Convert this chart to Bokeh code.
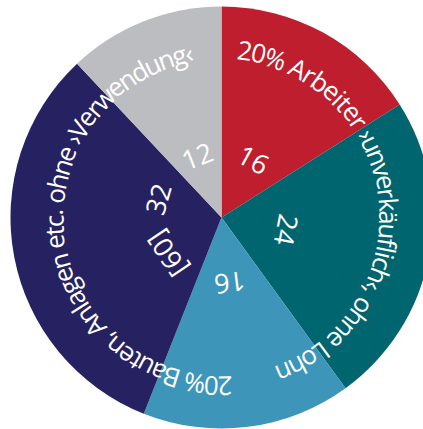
import math
from bokeh.plotting import figure
from bokeh.models import Range1d, ColumnDataSource
from bokeh.embed import file_html
from bokeh.resources import INLINE
from bokeh.core.properties import value

# ---- data ----
categories = ["Arbeiter", "unverkäuflich", "Bauten", "Anlagen", "Verwendung"]
values = [16, 24, 16, 32, 12]
value_labels = ["16", "24", "16", "32", "12"]
extra_label = "[60]"
colors = ["#BE1E2D", "#00656E", "#3D95B9", "#262262", "#BCBDC0"]
arc_texts = ["20% Arbeiter",
             "›unverkäuflich‹, ohne Lohn",
             "20% Bauten, Anlagen etc. ohne ›Verwendung‹"]
arc_start_deg = [84.5, 31.0, -86.5]
arc_end_deg = [33.0, -70.5, -260.0]

# ---- layout/style ----
R = 211
R_TEXT = 168
R_NUM = 66
FS = 26
FS_NUM = 27
# approximate Open Sans advance widths (em)
W = {" ": 0.26, "a": 0.556, "ä": 0.556, "b": 0.613, "c": 0.476, "d": 0.613, "e": 0.561,
     "f": 0.339, "g": 0.548, "h": 0.614, "i": 0.253, "k": 0.525, "l": 0.253, "n": 0.614,
     "o": 0.604, "r": 0.408, "s": 0.477, "t": 0.353, "u": 0.614, "v": 0.501, "w": 0.778,
     "A": 0.633, "B": 0.648, "L": 0.519, "V": 0.604, "%": 0.821, ",": 0.245, ".": 0.266,
     "[": 0.299, "]": 0.299, "›": 0.286, "‹": 0.286}
for d in "0123456789":
    W[d] = 0.572

p = figure(width=423, height=429, x_range=Range1d(-221, 202), y_range=Range1d(-212, 217),
           output_backend="svg", toolbar_location=None, min_border=0,
           x_axis_location=None, y_axis_location=None)
p.grid.visible = False
p.outline_line_color = None
p.background_fill_color = "white"
p.border_fill_color = "white"

total = sum(values)
starts, ends, mids = [], [], []
cum = 0
for v in values:
    a0 = math.radians(90 - cum / total * 360)
    cum += v
    a1 = math.radians(90 - cum / total * 360)
    starts.append(a1)
    ends.append(a0)
    mids.append((a0 + a1) / 2)

src = ColumnDataSource(dict(start=starts, end=ends, color=colors, cat=categories))
p.wedge(x=0, y=0, radius=R, start_angle="start", end_angle="end", color="color",
        line_color=None, source=src)

# curved labels, spread along the arc between start and end angle
cx, cy, ct, ca = [], [], [], []
for txt, sdeg, edeg in zip(arc_texts, arc_start_deg, arc_end_deg):
    widths = [W.get(ch, 0.55) * FS for ch in txt]
    span = math.radians(sdeg - edeg) * R_TEXT
    k = span / sum(widths)
    s = 0.0
    a_start = math.radians(sdeg)
    for ch, w in zip(txt, widths):
        w = w * k
        c = s + w / 2
        th = a_start - c / R_TEXT
        cx.append(R_TEXT * math.cos(th))
        cy.append(R_TEXT * math.sin(th))
        ct.append(ch)
        ca.append(th - math.pi / 2)
        s += w
p.text(x=cx, y=cy, text=ct, angle=ca, text_font=value("Open Sans"),
       text_font_size=value(f"{FS}px"), text_color="white", text_align="center",
       text_baseline="alphabetic")

# inner value labels
nx, ny, nt, na = [], [], [], []
for i, lab in enumerate(value_labels):
    th = mids[i]
    if i == 3:
        th = mids[i] - math.radians(27)
    nx.append(R_NUM * math.cos(th)); ny.append(R_NUM * math.sin(th))
    nt.append(lab); na.append(th - math.pi / 2)
th = mids[3] + math.radians(23)
nx.append(R_NUM * math.cos(th)); ny.append(R_NUM * math.sin(th))
nt.append(extra_label); na.append(th - math.pi / 2)
p.text(x=nx, y=ny, text=nt, angle=na, text_font=value("Open Sans"),
       text_font_size=value(f"{FS_NUM}px"), text_color="white", text_align="center",
       text_baseline="middle")

open("out.html", "w").write(file_html(p, INLINE))
